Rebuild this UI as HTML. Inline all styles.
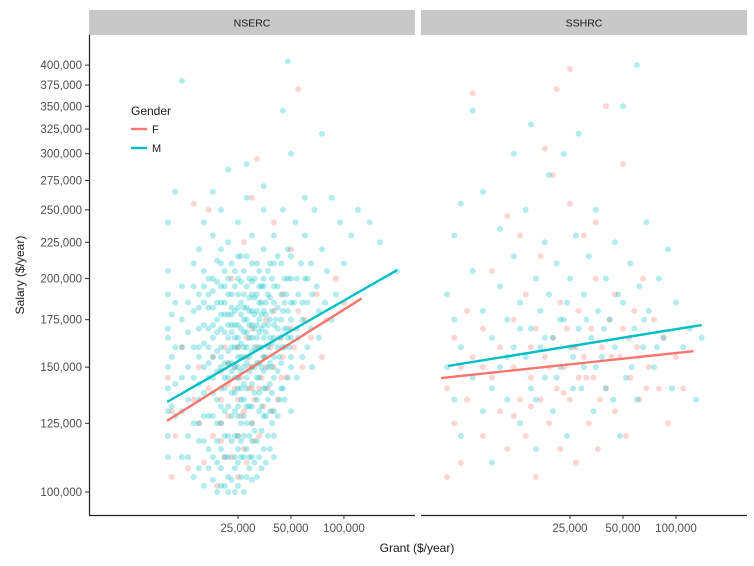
<!DOCTYPE html>
<html><head><meta charset="utf-8"><style>
html,body{margin:0;padding:0;background:#fff;}
svg{display:block;font-family:"Liberation Sans",sans-serif;}
</style></head><body>
<svg id="chart" width="754" height="566" viewBox="0 0 754 566"></svg>
<script>
// Data (grant in $k, salary in $k)
const panels = ["NSERC","SSHRC"];
const yTicks = [100,125,150,175,200,225,250,275,300,325,350,375,400];
const xTicks = [25,50,100];
const nsercM = [[10,140],[10,165],[10,190],[10,120],[10.5,155],[10.5,178],[10.5,132],[10,150],[10,205],[10,112],[11,160],[11,142],[11,265],[12,175],[12,130],[12,195],[13,150],[13,120],[13,168],[14,210],[14,145],[14,105],[15,160],[15,182],[15,135],[15,220],[15,118],[16,150],[16,172],[16,240],[16,128],[17,190],[17,145],[17,108],[18,165],[18,138],[18,200],[18,155],[18,230],[19,175],[19,125],[19,148],[20,160],[20,185],[20,140],[20,210],[20,115],[20,170],[20,250],[21,152],[21,195],[21,130],[22,165],[22,178],[22,145],[22,105],[22,225],[23,160],[23,190],[23,138],[24,172],[24,150],[24,120],[25,165],[25,182],[25,200],[25,140],[25,155],[25,240],[25,110],[25,128],[26,170],[26,148],[26,215],[27,160],[27,190],[27,135],[28,175],[28,152],[28,125],[28,260],[29,165],[29,200],[30,158],[30,180],[30,142],[30,210],[30,118],[30,230],[31,170],[31,150],[32,190],[32,165],[32,135],[33,175],[33,205],[33,145],[34,160],[34,122],[35,180],[35,155],[35,220],[35,140],[35,250],[36,168],[37,190],[37,150],[38,175],[38,130],[39,200],[40,165],[40,185],[40,145],[40,230],[40,112],[42,170],[42,195],[43,155],[44,210],[45,180],[45,160],[45,140],[45,250],[47,190],[48,170],[48,220],[50,175],[50,200],[50,155],[50,300],[52,185],[53,240],[55,190],[55,165],[57,210],[58,175],[60,200],[60,230],[62,185],[65,210],[65,170],[68,250],[70,195],[72,180],[75,220],[80,205],[85,260],[90,190],[95,240],[100,210],[110,230],[120,250],[140,240],[160,225],[200,205],[12,380],[48,405],[45,345],[28,290],[22,285],[60,260],[75,320],[35,270],[18,265],[10,240],[19,212],[21,102],[23,178],[24,205],[26,118],[27,150],[29,132],[31,188],[33,160],[36,128],[38,210],[41,175],[43,135],[46,200],[49,160],[17,160],[14,180],[12,145],[16,195],[19,100],[24,100],[29,108],[34,195],[39,150],[44,165]];
const nsercMcore = [[15,108],[15,125],[15,142],[15,155],[15,170],[15,190],[16,102],[16,118],[16,138],[16,162],[16,185],[16,205],[17,115],[17,128],[17,152],[17,170],[17,182],[17,200],[18,104],[18,112],[18,128],[18,145],[18,172],[18,182],[18,192],[19,110],[19,118],[19,135],[19,158],[19,168],[19,185],[19,198],[20,102],[20,108],[20,125],[20,132],[20,150],[20,155],[20,178],[20,195],[20,220],[21,112],[21,120],[21,140],[21,145],[21,168],[21,178],[21,185],[21,205],[22,100],[22,112],[22,120],[22,132],[22,152],[22,158],[22,172],[22,190],[22,200],[23,104],[23,118],[23,128],[23,148],[23,152],[23,168],[23,172],[23,182],[23,210],[24,108],[24,112],[24,130],[24,138],[24,145],[24,160],[24,165],[24,180],[24,195],[25,102],[25,115],[25,120],[25,132],[25,145],[25,150],[25,160],[25,172],[25,190],[25,215],[26,105],[26,112],[26,125],[26,135],[26,140],[26,155],[26,162],[26,178],[26,185],[26,198],[27,100],[27,112],[27,120],[27,128],[27,142],[27,155],[27,168],[27,175],[27,182],[27,205],[28,105],[28,115],[28,132],[28,140],[28,145],[28,160],[28,168],[28,182],[28,195],[28,215],[29,112],[29,120],[29,148],[29,155],[29,172],[29,180],[29,188],[30,104],[30,112],[30,125],[30,132],[30,150],[30,165],[30,172],[30,190],[30,198],[31,110],[31,122],[31,138],[31,160],[31,178],[31,200],[32,105],[32,118],[32,145],[32,152],[32,172],[32,180],[32,210],[33,112],[33,130],[33,138],[33,152],[33,168],[33,185],[33,195],[34,108],[34,132],[34,150],[34,170],[34,178],[34,185],[35,115],[35,128],[35,148],[35,165],[35,172],[35,195],[35,200],[36,110],[36,140],[36,155],[36,178],[36,185],[37,120],[37,135],[37,160],[37,172],[37,205],[38,115],[38,142],[38,152],[38,165],[38,188],[39,125],[39,138],[39,162],[39,180],[40,120],[40,130],[40,155],[40,172],[40,195],[40,210],[42,128],[42,148],[42,160],[42,182],[42,215],[44,140],[44,152],[44,175],[44,190],[46,135],[46,160],[46,170],[46,185],[48,145],[48,165],[48,180],[48,200],[50,130],[50,150],[50,165],[50,185],[50,215],[54,145],[54,170],[54,200],[58,155],[58,185],[62,160],[62,200],[66,150],[66,190],[72,165],[78,185],[85,175],[13,112],[13,135],[13,185],[12,160],[12,112],[11,128],[11,185],[14,125],[14,160],[14,195],[10,170],[10,130]];
const nsercF = [[10.5,130],[10.5,105],[10,145],[11,120],[12,160],[13,108],[14,135],[15,150],[15,125],[16,110],[17,140],[18,120],[18,155],[19,102],[20,135],[20,148],[20,118],[21,160],[22,128],[22,142],[23,112],[24,150],[25,135],[25,160],[25,120],[25,105],[26,145],[27,130],[28,155],[28,110],[29,140],[30,150],[30,125],[30,170],[31,135],[32,160],[33,120],[34,145],[35,155],[35,132],[36,175],[37,140],[38,160],[40,150],[40,180],[42,135],[43,165],[45,155],[45,190],[47,145],[50,170],[52,160],[55,180],[58,150],[60,175],[65,165],[70,190],[75,155],[80,175],[90,200],[100,185],[17,250],[14,255],[32,295],[55,370],[40,240],[27,225],[23,200],[30,260],[50,220],[21,112],[24,140],[26,128],[28,165],[29,150],[31,118],[33,140],[36,150],[39,130],[44,145],[20,125],[22,152],[25,145],[27,115],[30,140]];
const sshrcM = [[5,190],[5,150],[5.5,175],[5.5,135],[5.5,230],[6,255],[6,160],[6,120],[7,205],[7,145],[7,345],[8,180],[8,130],[8,265],[9,165],[9,110],[10,195],[10,150],[10,235],[11,175],[11,135],[12,215],[12,160],[12,300],[13,185],[13,125],[14,250],[14,155],[15,170],[15,140],[15,330],[16,200],[16,115],[17,180],[17,160],[18,225],[18,145],[19,190],[19,280],[20,165],[20,130],[21,210],[22,175],[22,150],[23,300],[24,185],[24,120],[25,160],[25,200],[26,140],[27,230],[28,170],[28,320],[30,190],[30,150],[32,215],[33,165],[34,130],[35,250],[36,180],[38,155],[40,200],[40,140],[42,175],[45,225],[45,160],[48,120],[50,185],[50,350],[52,145],[55,210],[58,170],[60,400],[60,135],[62,195],[65,160],[68,240],[70,180],[75,150],[80,200],[85,165],[90,220],[95,140],[100,185],[110,160],[120,170],[130,135],[140,165],[9,140],[11,155],[13,170],[16,135],[18,165],[21,145],[23,175],[26,155],[29,140],[31,175],[35,150],[39,170],[44,135],[47,190],[56,150],[66,175],[78,160]];
const sshrcF = [[5,140],[5,105],[5.5,165],[5.5,125],[6,150],[6,110],[6.5,180],[6.5,135],[7,155],[7,365],[8,120],[8,170],[9,145],[9,205],[10,130],[10,160],[11,115],[11,245],[12,150],[12,175],[13,135],[14,190],[14,120],[15,160],[15,145],[16,105],[16,170],[17,215],[17,135],[18,155],[19,125],[20,165],[20,280],[21,140],[22,185],[22,115],[23,150],[24,170],[25,135],[25,395],[26,160],[27,110],[28,180],[28,145],[30,155],[30,230],[32,125],[33,170],[34,145],[35,200],[36,115],[38,160],[40,140],[40,350],[42,175],[45,130],[45,190],[48,155],[50,170],[52,120],[55,145],[58,180],[60,160],[62,135],[65,200],[70,150],[75,175],[80,140],[85,165],[90,125],[100,155],[110,140],[21,370],[13,230],[18,305],[25,255],[50,290],[35,240],[8,150],[12,128],[15,132],[19,150],[23,138],[27,160],[31,145],[37,135],[43,155],[54,165],[68,140]];
// fit line endpoints [grant, salary]
const fitNsercF = [[9.87,126],[126,187.5]];
const fitNsercM = [[9.9,134],[200,205.5]];
const fitSshrcF = [[4.63,144.8],[126,158]];
const fitSshrcM = [[5.07,150.6],[140,172]];

const NS="http://www.w3.org/2000/svg";
const svg=document.getElementById('chart');
function mk(t,a,p){const e=document.createElementNS(NS,t);for(const k in a)e.setAttribute(k,a[k]);(p||svg).appendChild(e);return e;}
const panelX=[0,332];
function xs(g,p){return 238+panelX[p]+176*Math.log10(g/25);}
function ys(s){return 492-709*Math.log10(s/100);}
const FC="#F8766D", MC="#00BFC4";

panels.forEach((name,i)=>{
  const x0=i===0?89:421;
  const r=mk('rect',{x:x0,y:10,width:326,height:25,fill:'#c8c8c8'});
  
  
  const t=mk('text',{x:x0+163,y:26.5,'text-anchor':'middle','font-size':10.5,fill:'#1a1a1a'});
  t.textContent=name;
  
  
  const ax=mk('line',{x1:x0,y1:515.5,x2:x0+326,y2:515.5,stroke:'#222','stroke-width':1.2});
  
  
  xTicks.forEach(v=>{
    const px=xs(v,i);
    const tk=mk('line',{x1:px,y1:515,x2:px,y2:519,stroke:'#333'});
    
    
    const tl=mk('text',{x:px,y:532,'text-anchor':'middle','font-size':11.5,fill:'#4d4d4d'});
    tl.textContent=(v*1000).toLocaleString('en-US');
    
    
  });
});
const yax=mk('line',{x1:89.5,y1:35,x2:89.5,y2:515,stroke:'#222','stroke-width':1.2});


yTicks.forEach(v=>{
  const py=ys(v);
  const tk=mk('line',{x1:85,y1:py,x2:89,y2:py,stroke:'#333'});
  
  
  const tl=mk('text',{x:82,y:py+4,'text-anchor':'end','font-size':11.5,fill:'#4d4d4d'});
  tl.textContent=(v*1000).toLocaleString('en-US');
  
  
});
function drawPts(arr,p,c,nm){
  arr.forEach(d=>{
    const e=mk('circle',{cx:xs(d[0],p),cy:ys(d[1]),r:3,fill:c,'fill-opacity':0.3});
    
    
  });
}
drawPts(nsercF,0,FC,'point-nserc-f');
drawPts(nsercM,0,MC,'point-nserc-m');
drawPts(nsercMcore,0,MC,'point-nserc-m');
drawPts(sshrcF,1,FC,'point-sshrc-f');
drawPts(sshrcM,1,MC,'point-sshrc-m');
function drawFit(f,p,c,nm){
  const e=mk('line',{x1:xs(f[0][0],p),y1:ys(f[0][1]),x2:xs(f[1][0],p),y2:ys(f[1][1]),stroke:c,'stroke-width':2.4});
  
  
}
drawFit(fitNsercF,0,FC,'trend-nserc-f');
drawFit(fitNsercM,0,MC,'trend-nserc-m');
drawFit(fitSshrcF,1,FC,'trend-sshrc-f');
drawFit(fitSshrcM,1,MC,'trend-sshrc-m');
const lt=mk('text',{x:131,y:115,'font-size':12,fill:'#1a1a1a'});lt.textContent='Gender';


[['F',FC,129],['M',MC,148]].forEach(([n,c,y])=>{
  const l=mk('line',{x1:131,y1:y,x2:147,y2:y,stroke:c,'stroke-width':2.4});
  
  
  const t=mk('text',{x:152,y:y+4,'font-size':11,fill:'#1a1a1a'});t.textContent=n;
  
  
});
const xt=mk('text',{x:417,y:552,'text-anchor':'middle','font-size':12,fill:'#1a1a1a'});xt.textContent='Grant ($/year)';


const yt=mk('text',{x:24,y:275,'text-anchor':'middle','font-size':12,fill:'#1a1a1a',transform:'rotate(-90 24 275)'});yt.textContent='Salary ($/year)';


</script>
</body></html>
